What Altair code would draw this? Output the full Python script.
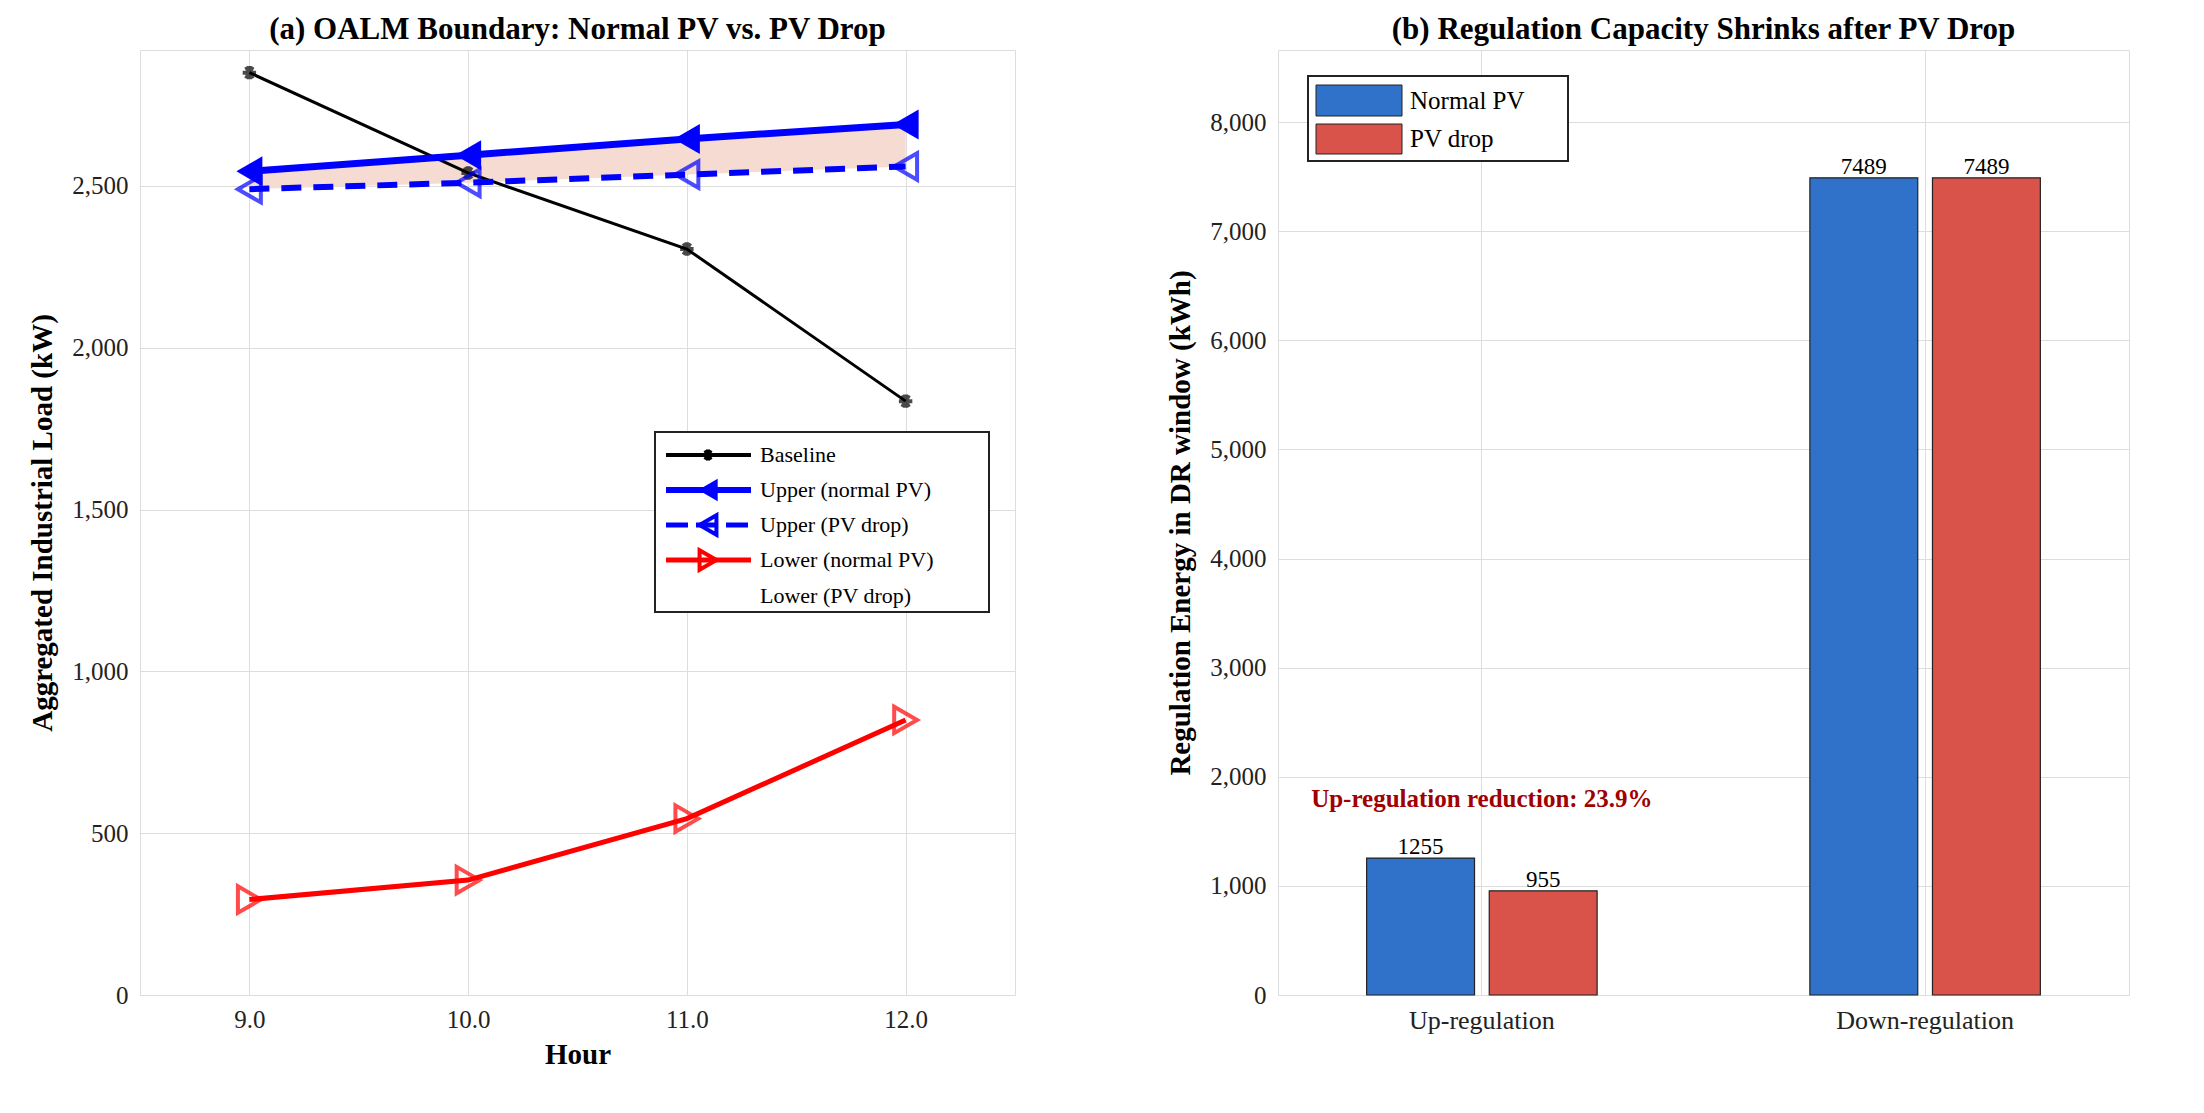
import altair as alt
import pandas as pd

hours = [9, 10, 11, 12]
baseline = [2850, 2540, 2305, 1835]
upper_normal = [2545, 2595, 2645, 2690]
upper_drop = [2490, 2510, 2535, 2560]
lower_normal = [295, 355, 545, 850]
lower_drop = [295, 355, 545, 850]

reg_types = ["Up-regulation", "Down-regulation"]
normal_pv = [1255, 7489]
pv_drop = [955, 7489]
reduction_text = "Up-regulation reduction: 23.9%"

FONT = "Liberation Serif"
W, H = 875, 945
ASTER = "M-1,0L1,0M-0.5,-0.87L0.5,0.87M-0.5,0.87L0.5,-0.87M0,-1L0,1"

df = pd.DataFrame({"h": hours, "b": baseline, "un": upper_normal, "ud": upper_drop,
                   "ln": lower_normal, "ld": lower_drop})

xs = alt.Scale(domain=[8.5, 12.5], nice=False)
ys = alt.Scale(domain=[0, 2920], nice=False)
xa = alt.Axis(values=hours, title="Hour", grid=True, gridColor="#dddddd",
              labelFontSize=25, titleFontSize=29, titleFont=FONT, labelFont=FONT, titleFontWeight="bold",
              domain=False, ticks=False, labelPadding=12, titlePadding=8, labelColor="#222")
ya = alt.Axis(values=[0, 500, 1000, 1500, 2000, 2500], title="Aggregated Industrial Load (kW)",
              grid=True, gridColor="#dddddd", labelFontSize=25, titleFontSize=29,
              titleFont=FONT, labelFont=FONT, titleFontWeight="bold", domain=False, ticks=False,
              labelPadding=12, titlePadding=14, labelColor="#222")

base = alt.Chart(df)
band = base.mark_area(color="#f5dbd1").encode(x=alt.X("h:Q", scale=xs, axis=xa), y=alt.Y("un:Q", scale=ys, axis=ya), y2="ud:Q")
bl = base.mark_line(color="black", strokeWidth=3).encode(x=alt.X("h:Q", scale=xs), y=alt.Y("b:Q", scale=ys))
bp = base.mark_point(shape=ASTER, color="black", strokeWidth=4, size=180).encode(x=alt.X("h:Q", scale=xs), y=alt.Y("b:Q", scale=ys))
unl = base.mark_line(color="#0000ff", strokeWidth=7).encode(x=alt.X("h:Q", scale=xs), y=alt.Y("un:Q", scale=ys))
unp = base.mark_point(shape="triangle-left", color="#0000ff", filled=True, opacity=1, size=900).encode(x=alt.X("h:Q", scale=xs), y=alt.Y("un:Q", scale=ys))
udl = base.mark_line(color="#0000ff", strokeWidth=6, strokeDash=[20, 12]).encode(x=alt.X("h:Q", scale=xs), y=alt.Y("ud:Q", scale=ys))
udp = base.mark_point(shape="triangle-left", color="#0000ff", filled=False, strokeWidth=4, size=700).encode(x=alt.X("h:Q", scale=xs), y=alt.Y("ud:Q", scale=ys))
lnl = base.mark_line(color="#ff0000", strokeWidth=5).encode(x=alt.X("h:Q", scale=xs), y=alt.Y("ln:Q", scale=ys))
ldp = base.mark_point(shape="triangle-right", color="#ff0000", filled=False, strokeWidth=4, size=700).encode(x=alt.X("h:Q", scale=xs), y=alt.Y("ld:Q", scale=ys))

# legend (panel a)
leg_names = ["Baseline", "Upper (normal PV)", "Upper (PV drop)", "Lower (normal PV)", "Lower (PV drop)"]
rows = [405, 440, 475, 510, 546]
box = alt.Chart(pd.DataFrame({"a": [0]})).mark_rect(fill="white", stroke="#222", strokeWidth=2).encode(
    x=alt.value(515), x2=alt.value(849), y=alt.value(382), y2=alt.value(562))
lt = alt.Chart(pd.DataFrame({"t": leg_names, "yy": rows})).mark_text(align="left", baseline="middle", font=FONT, fontSize=22, color="black").encode(
    x=alt.value(620), y=alt.Y("yy:Q", scale=None), text="t:N")
def seg(y, color, w, dash=None):
    kw = dict(color=color, strokeWidth=w)
    if dash: kw["strokeDash"] = dash
    return alt.Chart(pd.DataFrame({"a": [0]})).mark_rule(**kw).encode(x=alt.value(526), x2=alt.value(611), y=alt.value(y))
def sym(y, shape, color, filled, size, sw):
    return alt.Chart(pd.DataFrame({"a": [0]})).mark_point(shape=shape, color=color, filled=filled, opacity=1, size=size, strokeWidth=sw).encode(x=alt.value(568), y=alt.value(y))
legend_a = [box, seg(rows[0], "black", 4), sym(rows[0], ASTER, "black", False, 120, 4),
            seg(rows[1], "#0000ff", 6), sym(rows[1], "triangle-left", "#0000ff", True, 500, 1),
            seg(rows[2], "#0000ff", 5, [22, 8]), sym(rows[2], "triangle-left", "#0000ff", False, 380, 4),
            seg(rows[3], "red", 5), sym(rows[3], "triangle-right", "red", False, 380, 4), lt]

left = alt.layer(band, bl, unl, udl, lnl, bp, unp, udp, ldp, *legend_a).properties(
    width=W, height=H,
    title=alt.TitleParams("(a) OALM Boundary: Normal PV vs. PV Drop", font=FONT, fontSize=31, fontWeight="bold", offset=4))

# panel b
bdf = pd.DataFrame({"cat": reg_types * 2, "series": ["Normal PV"] * 2 + ["PV drop"] * 2,
                    "v": normal_pv + pv_drop})
xb = alt.X("cat:N", sort=reg_types, scale=alt.Scale(paddingInner=0.48, paddingOuter=0.2),
           axis=alt.Axis(title=None, labelAngle=0, labelFontSize=26, labelFont=FONT, labelColor="#222",
                         grid=True, gridColor="#dddddd", domain=False, ticks=False, labelPadding=12))
yb = alt.Y("v:Q", scale=alt.Scale(domain=[0, 8660], nice=False),
           axis=alt.Axis(values=list(range(0, 8001, 1000)), title="Regulation Energy in DR window (kWh)",
                         grid=True, gridColor="#dddddd", labelFontSize=25, titleFontSize=29,
                         labelFont=FONT, titleFont=FONT, titleFontWeight="bold", domain=False, ticks=False,
                         labelPadding=12, titlePadding=14, labelColor="#222"))
colors = alt.Scale(domain=["Normal PV", "PV drop"], range=["#3072c9", "#d9534a"])
bb = alt.Chart(bdf)
bars = bb.mark_bar(stroke="#222", strokeWidth=1.2).encode(
    x=xb, y=yb, xOffset=alt.XOffset("series:N", scale=alt.Scale(paddingInner=0.12)),
    color=alt.Color("series:N", scale=colors, legend=None))
blab = bb.mark_text(baseline="bottom", font=FONT, fontSize=23, color="black", dy=1).encode(
    x=alt.X("cat:N", sort=reg_types), y="v:Q", xOffset="series:N", text="v:Q")
ann = alt.Chart(pd.DataFrame({"cat": ["Up-regulation"], "v": [1800], "t": [reduction_text]})).mark_text(
    font=FONT, fontSize=25, fontWeight="bold", color="#a00000", baseline="middle").encode(
    x=alt.X("cat:N", sort=reg_types), y="v:Q", text="t:N")
one = pd.DataFrame({"a": [0]})
box_b = alt.Chart(one).mark_rect(fill="white", stroke="#222", strokeWidth=2).encode(
    x=alt.value(30), x2=alt.value(290), y=alt.value(26), y2=alt.value(111))
sw1 = alt.Chart(one).mark_rect(fill="#3072c9", stroke="#222", strokeWidth=1).encode(x=alt.value(38), x2=alt.value(124), y=alt.value(35), y2=alt.value(66))
sw2 = alt.Chart(one).mark_rect(fill="#d9534a", stroke="#222", strokeWidth=1).encode(x=alt.value(38), x2=alt.value(124), y=alt.value(74), y2=alt.value(104))
ltb = alt.Chart(pd.DataFrame({"t": ["Normal PV", "PV drop"], "yy": [51, 89]})).mark_text(
    align="left", baseline="middle", font=FONT, fontSize=25, color="black").encode(
    x=alt.value(132), y=alt.Y("yy:Q", scale=None), text="t:N")
right = alt.layer(bars, blab, ann, box_b, sw1, sw2, ltb).properties(
    width=851, height=H,
    title=alt.TitleParams("(b) Regulation Capacity Shrinks after PV Drop", font=FONT, fontSize=31, fontWeight="bold", offset=4))

chart = alt.hconcat(left, right, spacing=150).resolve_scale(color="independent").configure_view(
    stroke="#222", strokeWidth=2).configure(padding={"left": 20, "top": 5, "right": 5, "bottom": 5}, background="white")
chart.save("out.html", embed_options={"renderer": "svg", "actions": False})
